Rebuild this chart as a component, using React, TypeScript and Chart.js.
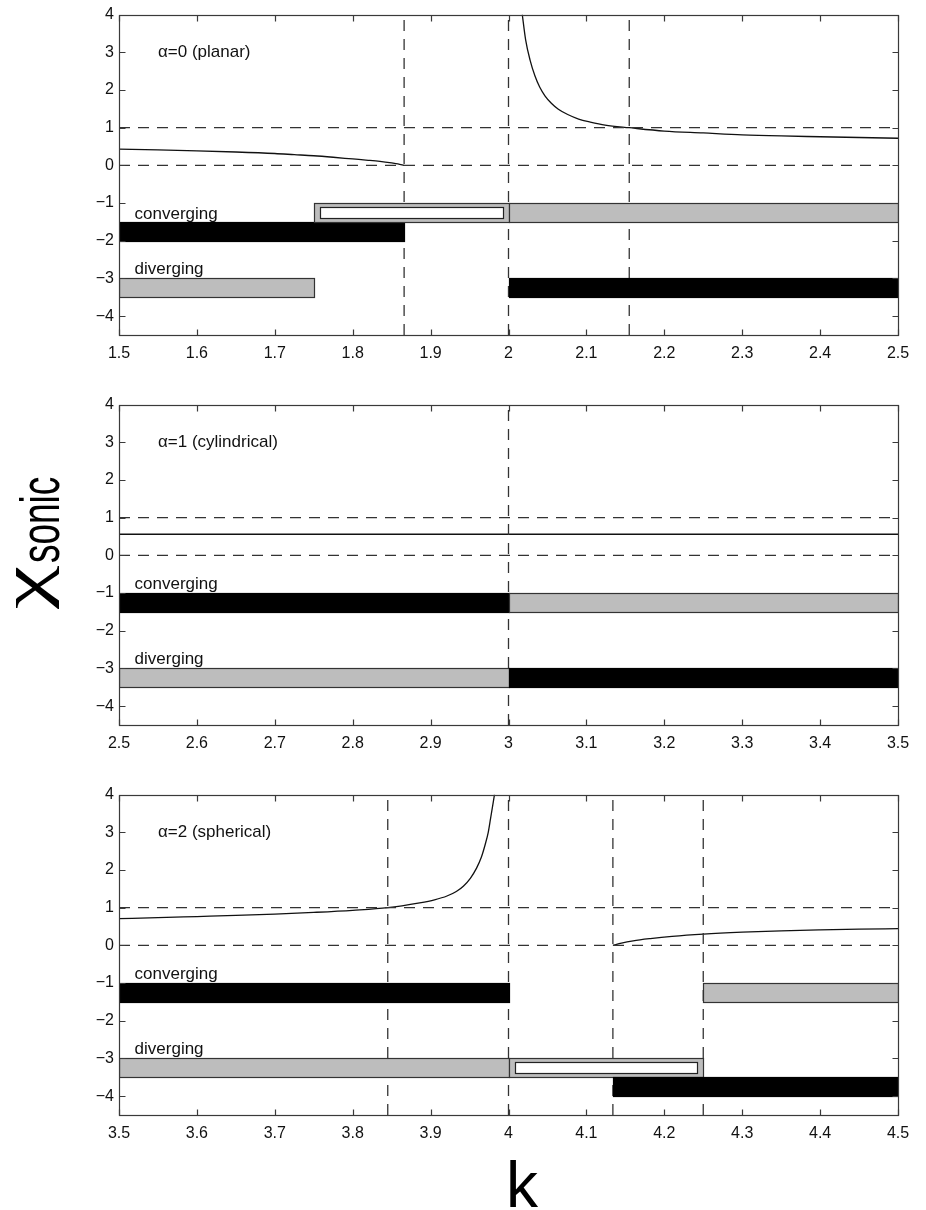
import React, { useEffect, useRef } from "react";
import { Chart, registerables } from "chart.js";

Chart.register(...registerables);

const FONT = '"Liberation Sans", Arial, Helvetica, sans-serif';

// ---------- ticks ----------
const yTickValues = [-4, -3, -2, -1, 0, 1, 2, 3, 4];
const planarTicks = [1.5, 1.6, 1.7, 1.8, 1.9, 2.0, 2.1, 2.2, 2.3, 2.4, 2.5];
const cylTicks = [2.5, 2.6, 2.7, 2.8, 2.9, 3.0, 3.1, 3.2, 3.3, 3.4, 3.5];
const sphTicks = [3.5, 3.6, 3.7, 3.8, 3.9, 4.0, 4.1, 4.2, 4.3, 4.4, 4.5];
const referenceLevels = [0, 1];

// ---------- alpha = 0 (planar) ----------
const planarCurveAK = [1.5, 1.55, 1.6, 1.65, 1.7, 1.725, 1.75, 1.775, 1.8, 1.82, 1.835, 1.85, 1.858, 1.866];
const planarCurveAChi = [0.43, 0.41, 0.385, 0.355, 0.315, 0.285, 0.255, 0.215, 0.17, 0.135, 0.105, 0.065, 0.04, 0];
const planarCurveBK = [2.0177, 2.022, 2.0276, 2.034, 2.04, 2.047, 2.055, 2.064, 2.076, 2.09, 2.105, 2.124, 2.155, 2.2, 2.25, 2.3, 2.35, 2.4, 2.45, 2.5];
const planarCurveBChi = [4.0, 3.33, 2.8, 2.37, 2.08, 1.84, 1.65, 1.49, 1.35, 1.23, 1.15, 1.07, 1.0, 0.91, 0.86, 0.81, 0.78, 0.76, 0.74, 0.72];
const planarVerticals = [1.866, 2.0, 2.155];
const planarBarStart = [1.5, 1.75, 2.0, 1.5, 2.0];
const planarBarEnd = [1.866, 2.0, 2.5, 1.75, 2.5];
const planarBarLow = [-2, -1.5, -1.5, -3.5, -3.5];
const planarBarHigh = [-1.5, -1, -1, -3, -3];
const planarBarKind = ["black", "boxed", "gray", "gray", "black"];
const planarLabelText = ["converging", "diverging"];
const planarLabelK = [1.52, 1.52];
const planarLabelChi = [-1.41, -2.88];

// ---------- alpha = 1 (cylindrical) ----------
const cylCurveK = [2.5, 3.5];
const cylCurveChi = [0.56, 0.56];
const cylVerticals = [3.0];
const cylBarStart = [2.5, 3.0, 2.5, 3.0];
const cylBarEnd = [3.0, 3.5, 3.0, 3.5];
const cylBarLow = [-1.5, -1.5, -3.5, -3.5];
const cylBarHigh = [-1, -1, -3, -3];
const cylBarKind = ["black", "gray", "gray", "black"];
const cylLabelText = ["converging", "diverging"];
const cylLabelK = [2.52, 2.52];
const cylLabelChi = [-0.88, -2.88];

// ---------- alpha = 2 (spherical) ----------
const sphCurveAK = [3.5, 3.55, 3.6, 3.65, 3.7, 3.75, 3.8, 3.845, 3.886, 3.905, 3.921, 3.933, 3.942, 3.951, 3.959, 3.965, 3.97, 3.974, 3.977, 3.982];
const sphCurveAChi = [0.71, 0.735, 0.765, 0.795, 0.83, 0.875, 0.93, 1.0, 1.13, 1.21, 1.31, 1.43, 1.57, 1.78, 2.05, 2.33, 2.67, 3.0, 3.37, 4.0];
const sphCurveBK = [4.134, 4.145, 4.16, 4.182, 4.21, 4.25, 4.3, 4.35, 4.4, 4.45, 4.5];
const sphCurveBChi = [0, 0.06, 0.12, 0.18, 0.24, 0.3, 0.35, 0.385, 0.41, 0.43, 0.445];
const sphVerticals = [3.845, 4.0, 4.134, 4.25];
const sphBarStart = [3.5, 4.25, 3.5, 4.0, 4.134];
const sphBarEnd = [4.0, 4.5, 4.0, 4.25, 4.5];
const sphBarLow = [-1.5, -1.5, -3.5, -3.5, -4];
const sphBarHigh = [-1, -1, -3, -3, -3.5];
const sphBarKind = ["black", "gray", "gray", "boxed", "black"];
const sphLabelText = ["converging", "diverging"];
const sphLabelK = [3.52, 3.52];
const sphLabelChi = [-0.88, -2.88];

const panelTitles = ["α=0 (planar)", "α=1 (cylindrical)", "α=2 (spherical)"];
const titleChi = 3;

type Panel = {
  xMin: number;
  xMax: number;
  xTicks: number[];
  curves: [number[], number[]][];
  verticals: number[];
  bars: { start: number[]; end: number[]; low: number[]; high: number[]; kind: string[] };
  labels: { text: string[]; k: number[]; chi: number[] };
  title: string;
};

const panels: Panel[] = [
  {
    xMin: 1.5, xMax: 2.5, xTicks: planarTicks,
    curves: [[planarCurveAK, planarCurveAChi], [planarCurveBK, planarCurveBChi]],
    verticals: planarVerticals,
    bars: { start: planarBarStart, end: planarBarEnd, low: planarBarLow, high: planarBarHigh, kind: planarBarKind },
    labels: { text: planarLabelText, k: planarLabelK, chi: planarLabelChi },
    title: panelTitles[0],
  },
  {
    xMin: 2.5, xMax: 3.5, xTicks: cylTicks,
    curves: [[cylCurveK, cylCurveChi]],
    verticals: cylVerticals,
    bars: { start: cylBarStart, end: cylBarEnd, low: cylBarLow, high: cylBarHigh, kind: cylBarKind },
    labels: { text: cylLabelText, k: cylLabelK, chi: cylLabelChi },
    title: panelTitles[1],
  },
  {
    xMin: 3.5, xMax: 4.5, xTicks: sphTicks,
    curves: [[sphCurveAK, sphCurveAChi], [sphCurveBK, sphCurveBChi]],
    verticals: sphVerticals,
    bars: { start: sphBarStart, end: sphBarEnd, low: sphBarLow, high: sphBarHigh, kind: sphBarKind },
    labels: { text: sphLabelText, k: sphLabelK, chi: sphLabelChi },
    title: panelTitles[2],
  },
];

const fmt = (v: number) => String(Math.round(v * 10) / 10).replace("-", "\u2212");

const FRAME = "#3a3a3a";
const DASH = [11, 8];

function makeDecor(p: Panel) {
  return {
    id: "panelDecor",
    afterDatasetsDraw(chart: any) {
      const { ctx, chartArea: a } = chart;
      const x = chart.scales.x;
      const y = chart.scales.y;
      ctx.save();
      ctx.beginPath();
      ctx.rect(a.left, a.top, a.right - a.left, a.bottom - a.top);
      ctx.clip();
      const b = p.bars;
      for (let i = 0; i < b.start.length; i++) {
        const l = Math.round(x.getPixelForValue(b.start[i])) + 0.5;
        const r = Math.round(x.getPixelForValue(b.end[i])) + 0.5;
        const t = Math.round(y.getPixelForValue(b.high[i])) + 0.5;
        const bt = Math.round(y.getPixelForValue(b.low[i])) + 0.5;
        const kind = b.kind[i];
        ctx.fillStyle = kind === "black" ? "#000" : "#bdbdbd";
        ctx.fillRect(l, t, r - l, bt - t);
        ctx.lineWidth = 1.2;
        ctx.strokeStyle = kind === "black" ? "#000" : "#333";
        ctx.strokeRect(l, t, r - l, bt - t);
        if (kind === "boxed") {
          ctx.fillStyle = "#fff";
          ctx.fillRect(l + 6, t + 4, r - l - 12, bt - t - 8);
          ctx.strokeStyle = "#222";
          ctx.strokeRect(l + 6, t + 4, r - l - 12, bt - t - 8);
        }
      }
      ctx.fillStyle = "#111";
      ctx.font = `17px ${FONT}`;
      ctx.textAlign = "left";
      ctx.textBaseline = "alphabetic";
      for (let i = 0; i < p.labels.text.length; i++) {
        ctx.fillText(p.labels.text[i], x.getPixelForValue(p.labels.k[i]), y.getPixelForValue(p.labels.chi[i]));
      }
      ctx.textBaseline = "middle";
      ctx.fillText(p.title, x.getPixelForValue(p.xMin + 0.05), y.getPixelForValue(titleChi));
      ctx.restore();
    },
    afterDraw(chart: any) {
      const { ctx, chartArea: a } = chart;
      const x = chart.scales.x;
      const y = chart.scales.y;
      ctx.save();
      ctx.strokeStyle = FRAME;
      ctx.lineWidth = 1.2;
      const L = Math.round(a.left) + 0.5;
      const R = Math.round(a.right) + 0.5;
      const T = Math.round(a.top) + 0.5;
      const B = Math.round(a.bottom) + 0.5;
      ctx.strokeRect(L, T, R - L, B - T);
      const tl = 6;
      ctx.beginPath();
      for (const t of x.ticks) {
        const px = Math.round(x.getPixelForValue(t.value)) + 0.5;
        ctx.moveTo(px, B);
        ctx.lineTo(px, B - tl);
        ctx.moveTo(px, T);
        ctx.lineTo(px, T + tl);
      }
      for (const t of y.ticks) {
        const py = Math.round(y.getPixelForValue(t.value)) + 0.5;
        ctx.moveTo(L, py);
        ctx.lineTo(L + tl, py);
        ctx.moveTo(R, py);
        ctx.lineTo(R - tl, py);
      }
      ctx.stroke();
      ctx.restore();
    },
  };
}

function buildConfig(p: Panel): any {
  const datasets: any[] = [];
  for (const lvl of referenceLevels) {
    datasets.push({
      data: [{ x: p.xMin, y: lvl }, { x: p.xMax, y: lvl }],
      showLine: true, pointRadius: 0, borderColor: "#333", borderWidth: 1.3, borderDash: DASH,
    });
  }
  for (const k of p.verticals) {
    datasets.push({
      data: [{ x: k, y: -4.5 }, { x: k, y: 4 }],
      showLine: true, pointRadius: 0, borderColor: "#333", borderWidth: 1.3, borderDash: DASH,
    });
  }
  for (const [ks, chis] of p.curves) {
    datasets.push({
      data: ks.map((k, i) => ({ x: k, y: chis[i] })),
      showLine: true, pointRadius: 0, borderColor: "#111", borderWidth: 1.3,
      cubicInterpolationMode: "monotone",
    });
  }
  const tickFont = { family: FONT, size: 16 };
  return {
    type: "scatter",
    data: { datasets },
    options: {
      animation: false,
      responsive: false,
      devicePixelRatio: 1,
      layout: { padding: { left: 0, right: 28, top: 12, bottom: 0 } },
      plugins: { legend: { display: false }, tooltip: { enabled: false } },
      scales: {
        x: {
          type: "linear",
          min: p.xMin,
          max: p.xMax,
          afterBuildTicks: (s: any) => { s.ticks = p.xTicks.map((v) => ({ value: v })); },
          afterFit: (s: any) => { s.height = 45; },
          grid: { display: false, drawTicks: false },
          border: { display: false },
          ticks: { padding: 9, color: "#111", font: tickFont, autoSkip: false, maxRotation: 0, callback: (v: any) => fmt(Number(v)) },
        },
        y: {
          type: "linear",
          min: -4.5,
          max: 4,
          afterBuildTicks: (s: any) => { s.ticks = yTickValues.map((v) => ({ value: v })); },
          afterFit: (s: any) => { s.width = 119; },
          grid: { display: false, drawTicks: false },
          border: { display: false },
          ticks: { padding: 5, color: "#111", font: tickFont, autoSkip: false, callback: (v: any) => fmt(Number(v)) },
        },
      },
    },
    plugins: [makeDecor(p)],
  };
}

function PanelChart({ panel, top }: { panel: Panel; top: number }) {
  const ref = useRef<HTMLCanvasElement | null>(null);
  useEffect(() => {
    const chart = new Chart(ref.current as HTMLCanvasElement, buildConfig(panel));
    return () => chart.destroy();
  }, [panel]);
  return (
    <canvas
      ref={ref}
      width={926}
      height={380}
      style={{ position: "absolute", left: 0, top, width: 926, height: 380 }}
    />
  );
}

function AxisTitles() {
  const ref = useRef<HTMLCanvasElement | null>(null);
  useEffect(() => {
    const c = ref.current;
    if (!c) return;
    const ctx = c.getContext("2d");
    if (!ctx) return;
    ctx.clearRect(0, 0, 926, 1210);
    ctx.fillStyle = "#000";
    // x title
    ctx.font = `64px ${FONT}`;
    ctx.textAlign = "center";
    ctx.textBaseline = "alphabetic";
    ctx.fillText("k", 522, 1207);
    // y title: chi
    ctx.save();
    ctx.translate(45, 609);
    ctx.rotate(-Math.PI / 2);
    ctx.scale(1.55, 1);
    ctx.font = `63px "Liberation Serif", "DejaVu Serif", serif`;
    ctx.textAlign = "left";
    ctx.fillText("χ", 0, 0);
    ctx.restore();
    // y title: sonic
    ctx.save();
    ctx.translate(59, 563);
    ctx.rotate(-Math.PI / 2);
    ctx.scale(0.66, 1);
    ctx.font = `56px ${FONT}`;
    ctx.textAlign = "left";
    ctx.fillText("sonic", 0, 0);
    ctx.restore();
  }, []);
  return (
    <canvas
      ref={ref}
      width={926}
      height={1210}
      style={{ position: "absolute", left: 0, top: 0, width: 926, height: 1210 }}
    />
  );
}

export default function App() {
  return (
    <div style={{ position: "absolute", left: 0, top: 0, width: 926, height: 1210, background: "#fff", overflow: "hidden" }}>
      <AxisTitles />
      <PanelChart panel={panels[0]} top={0} />
      <PanelChart panel={panels[1]} top={390} />
      <PanelChart panel={panels[2]} top={780} />
    </div>
  );
}
